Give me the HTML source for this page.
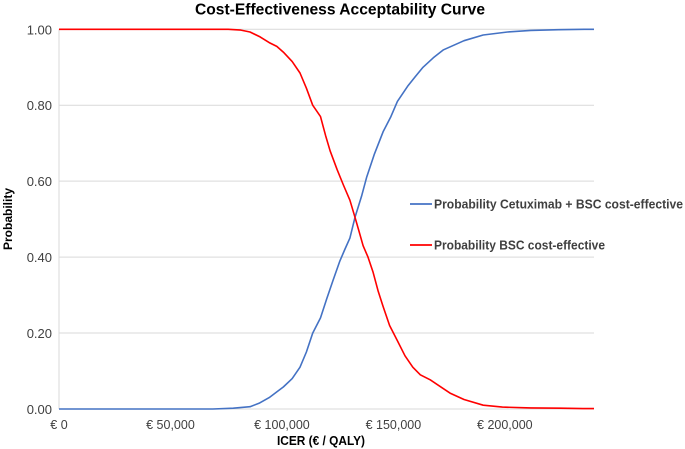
<!DOCTYPE html>
<html><head><meta charset="utf-8"><style>
html,body{margin:0;padding:0;background:#fff;}
svg{display:block;font-family:"Liberation Sans",sans-serif;}
</style></head><body>
<svg id="c" width="685" height="449"></svg>
<script>
const xTicks=[0,50000,100000,150000,200000];
const xTickLabels=["€ 0","€ 50,000","€ 100,000","€ 150,000","€ 200,000"];
const yTicks=[0,0.2,0.4,0.6,0.8,1.0];
const yTickLabels=["0.00","0.20","0.40","0.60","0.80","1.00"];
const blueX=[0,69000,78200,85700,89700,94300,97700,100600,104600,108100,111000,113800,117300,120100,123000,126000,128200,130500,132800,135700,138000,141400,145400,148900,151800,156400,159800,163300,167900,172500,181700,190300,201200,211600,224200,235700,240000];
const blueY=[0,0,0.002,0.006,0.015,0.03,0.045,0.058,0.08,0.11,0.15,0.2,0.24,0.29,0.34,0.39,0.42,0.45,0.505,0.56,0.61,0.67,0.73,0.77,0.81,0.85,0.875,0.9,0.925,0.946,0.97,0.985,0.993,0.997,0.999,1,1];
const redX=[0,75900,81600,85700,90200,94300,97700,100600,104600,108100,111000,113800,117300,119600,121600,124800,127600,130500,132800,134500,136400,138600,140900,143200,145400,148300,151800,155200,158700,162100,166500,170800,175400,181700,190300,198900,211600,225000,235000,240000];
const redY=[1,1,0.998,0.993,0.98,0.965,0.955,0.94,0.915,0.885,0.845,0.8,0.77,0.72,0.68,0.63,0.59,0.55,0.505,0.47,0.43,0.4,0.36,0.31,0.27,0.22,0.18,0.14,0.11,0.09,0.077,0.06,0.042,0.025,0.01,0.005,0.003,0.002,0.001,0.001];
const svg=document.getElementById('c');
const NS='http://www.w3.org/2000/svg';
const L=59,R=594,T=29.3,B=409;
const xMax=240000;
const sx=v=>L+(R-L)*v/xMax;
const sy=v=>B-(B-T)*v;
function mk(tag,attrs,txt){const e=document.createElementNS(NS,tag);for(const k in attrs)e.setAttribute(k,attrs[k]);if(txt!==undefined)e.textContent=txt;svg.appendChild(e);return e;}
yTicks.forEach((t,i)=>{
 const g=mk('line',{x1:L,x2:R,y1:sy(t),y2:sy(t),stroke:'#d9d9d9','stroke-width':1});
 
 
 const lb=mk('text',{x:L-7,y:sy(t)+5,'text-anchor':'end','font-size':13,fill:'#404040'},yTickLabels[i]);
 
 
});
const ax=mk('line',{x1:L,x2:L,y1:T,y2:B,stroke:'#d9d9d9','stroke-width':1});


xTicks.forEach((t,i)=>{
 const lb=mk('text',{x:sx(t),y:B+20,'text-anchor':'middle','font-size':12.5,fill:'#404040'},xTickLabels[i]);
 
 
});
function path(xs,ys,col,name){
 const d=xs.map((x,i)=>(i?'L':'M')+sx(x).toFixed(1)+','+sy(ys[i]).toFixed(1)).join('');
 const p=mk('path',{d:d,fill:'none',stroke:col,'stroke-width':1.6,'stroke-linejoin':'round'});
 
 
}
path(blueX,blueY,'#4472c4','cetuximab-line');
path(redX,redY,'#ff0000','bsc-line');
const t=mk('text',{x:195,y:14.5,'font-size':16,'font-weight':'bold',fill:'#000',textLength:290,lengthAdjust:'spacingAndGlyphs'},'Cost-Effectiveness Acceptability Curve');


const xt=mk('text',{x:277,y:445,'font-size':12.5,'font-weight':'bold',fill:'#000',textLength:88,lengthAdjust:'spacingAndGlyphs'},'ICER (€ / QALY)');


const yt=mk('text',{x:0,y:0,'text-anchor':'middle','font-size':12,'font-weight':'bold',fill:'#000',transform:'translate(12,219) rotate(-90)'},'Probability');


const lg=[['#4472c4','Probability Cetuximab + BSC cost-effective',204,249],['#ff0000','Probability BSC cost-effective',245,171]];
lg.forEach(([c,s,y,w])=>{
 const l=mk('line',{x1:410,x2:432,y1:y,y2:y,stroke:c,'stroke-width':1.8});
 
 
 const tx=mk('text',{x:434,y:y+4.5,'font-size':13,'font-weight':'bold',fill:'#404040',textLength:w,lengthAdjust:'spacingAndGlyphs'},s);
 
 
});
</script>
</body></html>
